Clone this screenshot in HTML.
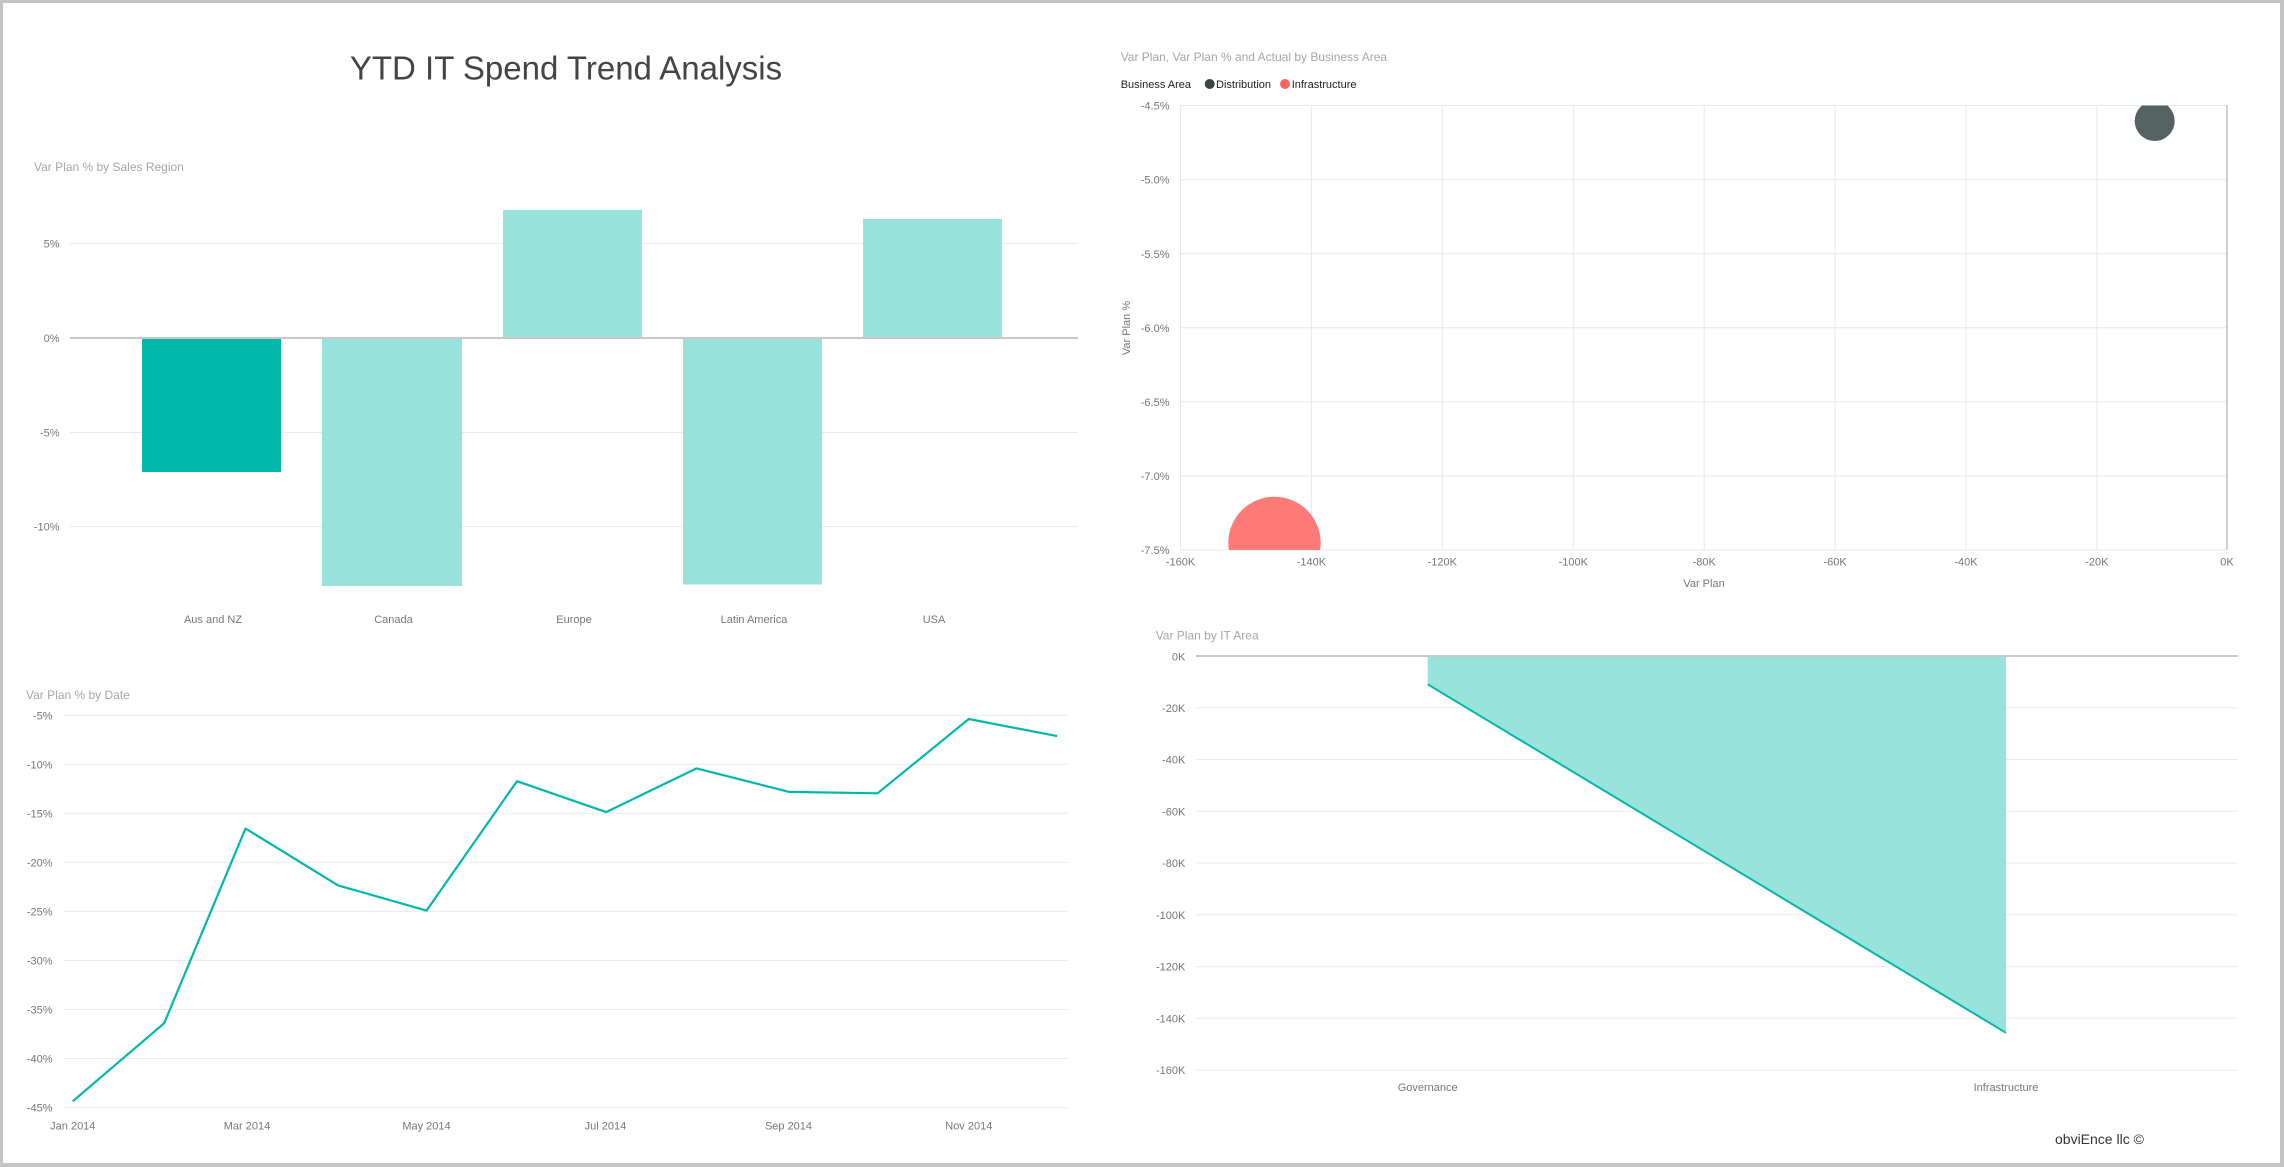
<!DOCTYPE html>
<html>
<head>
<meta charset="utf-8">
<style>
  html,body{margin:0;padding:0;background:#fff;}
  svg{display:block;}
  text{font-family:"Liberation Sans", sans-serif;}
</style>
</head>
<body>
<svg width="2284" height="1167" viewBox="0 0 2284 1167" xmlns="http://www.w3.org/2000/svg">
  <defs>
    <clipPath id="plotclip"><rect x="1180" y="105.5" width="1047" height="444.5"/></clipPath>
  </defs>
  <!-- border -->
  <rect x="0" y="0" width="2284" height="1167" fill="#c4c4c4"/>
  <rect x="3" y="3" width="2277" height="1160" fill="#ffffff"/>

  <!-- Main title -->
  <text x="566" y="79.3" font-size="33" fill="#444" text-anchor="middle">YTD IT Spend Trend Analysis</text>

  <!-- ============ Bar chart ============ -->
  <text x="34" y="171" font-size="12" fill="#a6a6a6">Var Plan % by Sales Region</text>
  <g stroke="#ebebeb" stroke-width="1">
    <line x1="70" y1="243.5" x2="1078" y2="243.5"/>
    <line x1="70" y1="432.5" x2="1078" y2="432.5"/>
    <line x1="70" y1="526.5" x2="1078" y2="526.5"/>
  </g>
  <g font-size="11" fill="#777" text-anchor="end">
    <text x="59.5" y="247.7">5%</text>
    <text x="59.5" y="342">0%</text>
    <text x="59.5" y="436.3">-5%</text>
    <text x="59.5" y="530.5">-10%</text>
  </g>
  <rect x="142" y="338" width="139" height="134" fill="#01B8AA"/>
  <rect x="322" y="338" width="140" height="248" fill="#99e3dd"/>
  <rect x="503" y="210" width="139" height="128" fill="#99e3dd"/>
  <rect x="683" y="338" width="139" height="246.5" fill="#99e3dd"/>
  <rect x="863" y="219" width="139" height="119" fill="#99e3dd"/>
  <line x1="70" y1="338" x2="1078" y2="338" stroke="#c8c8c8" stroke-width="2"/>
  <g font-size="11" fill="#777" text-anchor="middle">
    <text x="213" y="623">Aus and NZ</text>
    <text x="393.5" y="623">Canada</text>
    <text x="574" y="623">Europe</text>
    <text x="754" y="623">Latin America</text>
    <text x="934" y="623">USA</text>
  </g>

  <!-- ============ Scatter chart ============ -->
  <text x="1120.7" y="61" font-size="12" fill="#a6a6a6">Var Plan, Var Plan % and Actual by Business Area</text>
  <text x="1120.7" y="88" font-size="11" fill="#222">Business Area</text>
  <circle cx="1209.7" cy="84" r="5" fill="#374649"/>
  <text x="1216" y="88" font-size="11" fill="#222">Distribution</text>
  <circle cx="1285" cy="84" r="5" fill="#FD625E"/>
  <text x="1291.7" y="88" font-size="11" fill="#222">Infrastructure</text>

  <g stroke="#e8e8e8" stroke-width="1">
    <!-- horizontal -->
    <line x1="1180" y1="105.5" x2="2227" y2="105.5"/>
    <line x1="1180" y1="179.6" x2="2227" y2="179.6"/>
    <line x1="1180" y1="253.7" x2="2227" y2="253.7"/>
    <line x1="1180" y1="327.8" x2="2227" y2="327.8"/>
    <line x1="1180" y1="401.8" x2="2227" y2="401.8"/>
    <line x1="1180" y1="475.9" x2="2227" y2="475.9"/>
    <line x1="1180" y1="550" x2="2227" y2="550"/>
    <!-- vertical -->
    <line x1="1180.5" y1="105.5" x2="1180.5" y2="550"/>
    <line x1="1311.4" y1="105.5" x2="1311.4" y2="550"/>
    <line x1="1442.3" y1="105.5" x2="1442.3" y2="550"/>
    <line x1="1573.3" y1="105.5" x2="1573.3" y2="550"/>
    <line x1="1704.2" y1="105.5" x2="1704.2" y2="550"/>
    <line x1="1835.1" y1="105.5" x2="1835.1" y2="550"/>
    <line x1="1966" y1="105.5" x2="1966" y2="550"/>
    <line x1="2096.8" y1="105.5" x2="2096.8" y2="550"/>
  </g>
  <line x1="2227" y1="105.5" x2="2227" y2="550" stroke="#c0c0c0" stroke-width="1.5"/>

  <g clip-path="url(#plotclip)">
    <circle cx="1274.5" cy="542.9" r="46.2" fill="#FE7A76"/>
    <circle cx="2154.7" cy="121" r="20" fill="#546262"/>
  </g>

  <g font-size="11" fill="#777" text-anchor="end">
    <text x="1169.5" y="109.7">-4.5%</text>
    <text x="1169.5" y="183.7">-5.0%</text>
    <text x="1169.5" y="257.8">-5.5%</text>
    <text x="1169.5" y="331.9">-6.0%</text>
    <text x="1169.5" y="405.9">-6.5%</text>
    <text x="1169.5" y="480">-7.0%</text>
    <text x="1169.5" y="554">-7.5%</text>
  </g>
  <g font-size="11" fill="#777" text-anchor="middle">
    <text x="1180.5" y="565.7">-160K</text>
    <text x="1311.4" y="565.7">-140K</text>
    <text x="1442.3" y="565.7">-120K</text>
    <text x="1573.3" y="565.7">-100K</text>
    <text x="1704.2" y="565.7">-80K</text>
    <text x="1835.1" y="565.7">-60K</text>
    <text x="1966" y="565.7">-40K</text>
    <text x="2096.8" y="565.7">-20K</text>
    <text x="2227" y="565.7">0K</text>
  </g>
  <text x="1704" y="587" font-size="11" fill="#777" text-anchor="middle">Var Plan</text>
  <text transform="translate(1130,328) rotate(-90)" font-size="11" fill="#777" text-anchor="middle">Var Plan %</text>

  <!-- ============ Line chart ============ -->
  <text x="26" y="699" font-size="12" fill="#a6a6a6">Var Plan % by Date</text>
  <g stroke="#ebebeb" stroke-width="1">
    <line x1="63" y1="715.3" x2="1068" y2="715.3"/>
    <line x1="63" y1="764.3" x2="1068" y2="764.3"/>
    <line x1="63" y1="813.4" x2="1068" y2="813.4"/>
    <line x1="63" y1="862.4" x2="1068" y2="862.4"/>
    <line x1="63" y1="911.4" x2="1068" y2="911.4"/>
    <line x1="63" y1="960.5" x2="1068" y2="960.5"/>
    <line x1="63" y1="1009.5" x2="1068" y2="1009.5"/>
    <line x1="63" y1="1058.5" x2="1068" y2="1058.5"/>
    <line x1="63" y1="1107.6" x2="1068" y2="1107.6"/>
  </g>
  <g font-size="11" fill="#777" text-anchor="end">
    <text x="52.5" y="719.3">-5%</text>
    <text x="52.5" y="768.3">-10%</text>
    <text x="52.5" y="817.4">-15%</text>
    <text x="52.5" y="866.4">-20%</text>
    <text x="52.5" y="915.4">-25%</text>
    <text x="52.5" y="964.5">-30%</text>
    <text x="52.5" y="1013.5">-35%</text>
    <text x="52.5" y="1062.5">-40%</text>
    <text x="52.5" y="1111.6">-45%</text>
  </g>
  <polyline fill="none" stroke="#01B8AA" stroke-width="2.2" stroke-linejoin="round"
    points="72.7,1101.3 164.2,1023.2 245.5,828.5 338.1,885.4 426.5,910.6 517,781.2 606.1,812.1 696.6,768.4 789.2,791.9 877.6,793.3 968.8,719 1057.1,736.1"/>
  <g font-size="11" fill="#777" text-anchor="middle">
    <text x="72.8" y="1129.3">Jan 2014</text>
    <text x="247" y="1129.3">Mar 2014</text>
    <text x="426.5" y="1129.3">May 2014</text>
    <text x="605.4" y="1129.3">Jul 2014</text>
    <text x="788.5" y="1129.3">Sep 2014</text>
    <text x="968.8" y="1129.3">Nov 2014</text>
  </g>

  <!-- ============ Area chart ============ -->
  <text x="1155.7" y="639.3" font-size="12" fill="#a6a6a6">Var Plan by IT Area</text>
  <g stroke="#ebebeb" stroke-width="1">
    <line x1="1196" y1="707.8" x2="2238" y2="707.8"/>
    <line x1="1196" y1="759.5" x2="2238" y2="759.5"/>
    <line x1="1196" y1="811.3" x2="2238" y2="811.3"/>
    <line x1="1196" y1="863" x2="2238" y2="863"/>
    <line x1="1196" y1="914.8" x2="2238" y2="914.8"/>
    <line x1="1196" y1="966.6" x2="2238" y2="966.6"/>
    <line x1="1196" y1="1018.3" x2="2238" y2="1018.3"/>
    <line x1="1196" y1="1070.1" x2="2238" y2="1070.1"/>
  </g>
  <g font-size="11" fill="#777" text-anchor="end">
    <text x="1185.3" y="660.3">0K</text>
    <text x="1185.3" y="711.8">-20K</text>
    <text x="1185.3" y="763.5">-40K</text>
    <text x="1185.3" y="815.3">-60K</text>
    <text x="1185.3" y="867">-80K</text>
    <text x="1185.3" y="918.8">-100K</text>
    <text x="1185.3" y="970.6">-120K</text>
    <text x="1185.3" y="1022.3">-140K</text>
    <text x="1185.3" y="1074.1">-160K</text>
  </g>
  <polygon points="1427.7,656 1427.7,684.3 2006,1032.8 2006,656" fill="#99e3dd"/>
  <line x1="1427.7" y1="684.3" x2="2006" y2="1032.8" stroke="#01B8AA" stroke-width="2"/>
  <line x1="1196" y1="656" x2="2238" y2="656" stroke="#c8c8c8" stroke-width="2"/>
  <g font-size="11" fill="#777" text-anchor="middle">
    <text x="1427.7" y="1091">Governance</text>
    <text x="2006" y="1091">Infrastructure</text>
  </g>
  <text x="2055" y="1143.8" font-size="14" fill="#333">obviEnce llc ©</text>
</svg>
</body>
</html>
